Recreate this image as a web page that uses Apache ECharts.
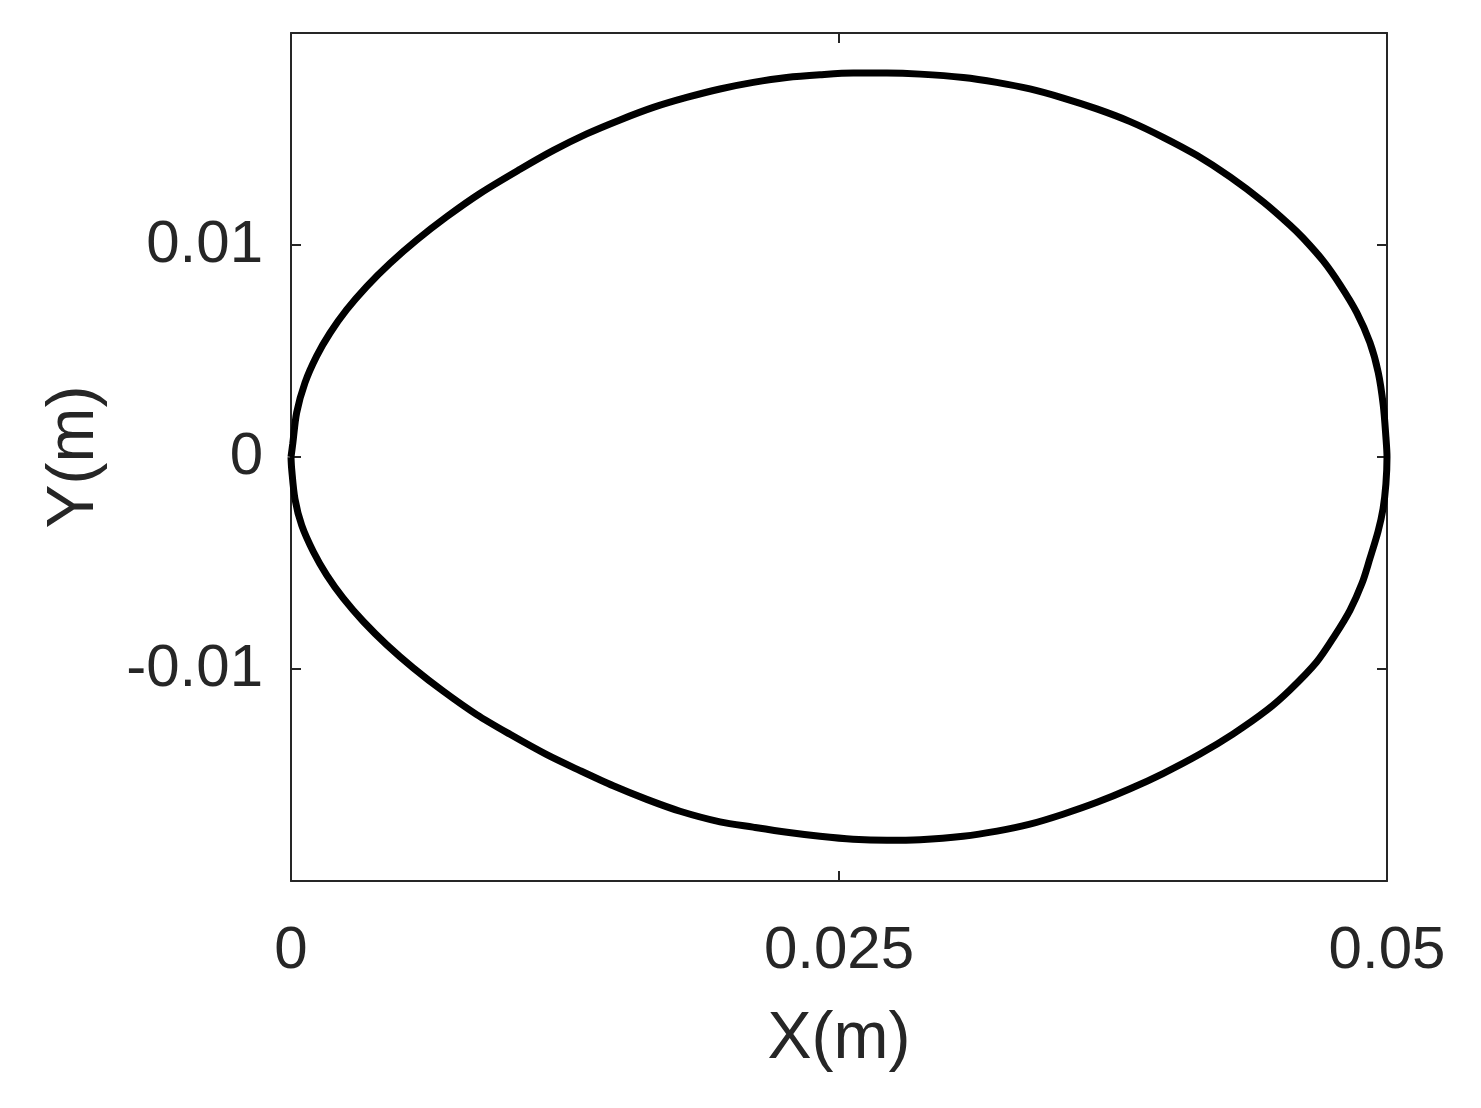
<!DOCTYPE html>
<html>
<head>
<meta charset="utf-8">
<script src="https://cdn.jsdelivr.net/npm/echarts@6/dist/echarts.min.js"></script>
<style>
  html, body { margin: 0; padding: 0; background: #fff; }
  #main { width: 1481px; height: 1108px; }
</style>
</head>
<body>
<div id="main"></div>
<script>
// upper half of the loop, left to right
var upperX = [0, 0.000078, 0.00026, 0.00064, 0.00117, 0.00178, 0.00254, 0.00345, 0.00452, 0.00573,
  0.00710, 0.00862, 0.01045, 0.01197, 0.01349, 0.01501, 0.01653, 0.01805, 0.01957, 0.02109,
  0.02261, 0.02413, 0.02565, 0.02718, 0.02870, 0.03067, 0.03219, 0.03371, 0.03523, 0.03676,
  0.03828, 0.03979, 0.04132, 0.04284, 0.04436, 0.04557, 0.04617, 0.04709, 0.04786, 0.04862,
  0.04922, 0.04960, 0.04983, 0.04995, 0.05];
var upperY = [0, 0.00061, 0.00210, 0.00351, 0.00476, 0.00585, 0.00695, 0.00804, 0.00914, 0.01023,
  0.01133, 0.01243, 0.01357, 0.01446, 0.01524, 0.01590, 0.01649, 0.01696, 0.01736, 0.01767,
  0.01790, 0.01803, 0.01811, 0.01811, 0.01806, 0.01790, 0.01767, 0.01736, 0.01693, 0.01642,
  0.01582, 0.01508, 0.01423, 0.01321, 0.01203, 0.01094, 0.01033, 0.00925, 0.00812, 0.00681,
  0.00540, 0.00399, 0.00244, 0.00094, 0];

// lower half, right to left
var lowerX = [0.05, 0.04995, 0.04982, 0.04959, 0.04922, 0.04886, 0.04831, 0.04763, 0.04679, 0.04557,
  0.04451, 0.04297, 0.04147, 0.03978, 0.03828, 0.03677, 0.03522, 0.03371, 0.03221, 0.03066,
  0.02870, 0.02719, 0.02564, 0.02413, 0.02263, 0.02108, 0.01957, 0.01775, 0.01623, 0.01470,
  0.01318, 0.01167, 0.00999, 0.00847, 0.00695, 0.00558, 0.00437, 0.00330, 0.00239, 0.00163,
  0.00102, 0.00049, 0.00018, 0.00003, 0];
var lowerY = [0, -0.00127, -0.00244, -0.00352, -0.00479, -0.00596, -0.00723, -0.00840, -0.00967, -0.01099,
  -0.01195, -0.01307, -0.01401, -0.01493, -0.01565, -0.01629, -0.01685, -0.01732, -0.01765, -0.01789,
  -0.01805, -0.01808, -0.01803, -0.01789, -0.01770, -0.01746, -0.01721, -0.01671, -0.01615, -0.01551,
  -0.01479, -0.01404, -0.01308, -0.01215, -0.01105, -0.00995, -0.00886, -0.00776, -0.00667, -0.00557,
  -0.00447, -0.00323, -0.00197, -0.00056, 0];

var xTicks = [0, 0.025, 0.05];
var yTicks = [-0.01, 0, 0.01];

var loop = [];
for (var i = 0; i < upperX.length; i++) {
  loop.push([upperX[i], upperY[i]]);
}
for (var j = 1; j < lowerX.length; j++) {
  loop.push([lowerX[j], lowerY[j]]);
}

var axisColor = '#262626';
var font = 'Liberation Sans, Arial, sans-serif';

function tickText(v, list) {
  for (var k = 0; k < list.length; k++) {
    if (Math.abs(v - list[k]) < 1e-9) return String(list[k]);
  }
  return '';
}

function frameAxis(extra) {
  var a = {
    type: 'value',
    axisLine: { show: true, onZero: false, lineStyle: { color: axisColor, width: 2 } },
    axisTick: { show: true, inside: true, length: 10, lineStyle: { color: axisColor, width: 2 } },
    axisLabel: { show: false },
    splitLine: { show: false }
  };
  for (var key in extra) a[key] = extra[key];
  return a;
}

var option = {
  animation: false,
  backgroundColor: '#fff',
  grid: {
    left: 291,
    right: 94,
    top: 33,
    bottom: 227,
    show: false
  },
  xAxis: [
    frameAxis({
      position: 'bottom', min: 0, max: 0.05, interval: 0.025,
      name: 'X(m)', nameLocation: 'middle', nameGap: 126,
      nameTextStyle: { fontSize: 66, color: axisColor, fontFamily: font },
      axisLabel: {
        show: true, fontSize: 60, color: axisColor, fontFamily: font, margin: 40,
        formatter: function (v) { return tickText(v, xTicks); }
      }
    }),
    frameAxis({ position: 'top', min: 0, max: 0.05, interval: 0.025 })
  ],
  yAxis: [
    frameAxis({
      position: 'left', min: -0.02, max: 0.02, interval: 0.01,
      name: 'Y(m)', nameLocation: 'middle', nameGap: 183,
      nameTextStyle: { fontSize: 66, color: axisColor, fontFamily: font },
      axisLabel: {
        show: true, fontSize: 60, color: axisColor, fontFamily: font, margin: 28,
        formatter: function (v) { return tickText(v, yTicks); }
      }
    }),
    frameAxis({ position: 'right', min: -0.02, max: 0.02, interval: 0.01 })
  ],
  series: [{
    name: 'trajectory',
    type: 'line',
    data: loop,
    smooth: 0.3,
    showSymbol: false,
    lineStyle: { color: '#000', width: 7 }
  }]
};

var myChart = echarts.init(document.getElementById('main'));
myChart.setOption(option);
</script>
</body>
</html>
